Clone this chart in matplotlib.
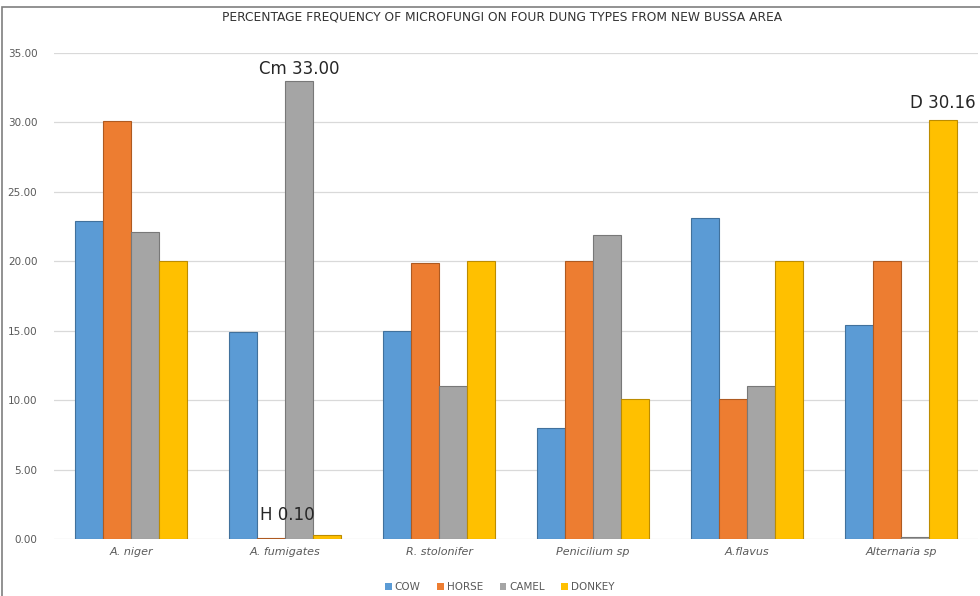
import matplotlib
matplotlib.use("Agg")
import matplotlib.pyplot as plt
import numpy as np
from matplotlib.patches import Rectangle

# Fungal species isolated and their percentage frequency on each dung type
categories = ["A. niger", "A. fumigates", "R. stolonifer", "Penicilium sp", "A.flavus", "Alternaria sp"]
series_names = ["COW", "HORSE", "CAMEL", "DONKEY"]
cow = [22.90, 14.90, 15.00, 8.00, 23.10, 15.40]
horse = [30.10, 0.10, 19.90, 20.00, 10.10, 20.00]
camel = [22.10, 33.00, 11.05, 21.90, 11.00, 0.15]
donkey = [20.00, 0.30, 20.00, 10.05, 20.00, 30.16]
y_ticks = [0, 5, 10, 15, 20, 25, 30, 35]

colors = ["#5B9BD5", "#ED7D31", "#A5A5A5", "#FFC000"]
edges = ["#41719C", "#AE5A21", "#787878", "#BC8C00"]

fig = plt.figure(figsize=(9.8, 5.96), dpi=100)
ax = fig.add_axes([0.0551, 0.0956, 0.9429, 0.8154])

x = np.arange(len(categories))
w = 0.182
data = [cow, horse, camel, donkey]
for i, (vals, c, e, name) in enumerate(zip(data, colors, edges, series_names)):
    ax.bar(x + (i - 1.5) * w, vals, width=w, color=c, edgecolor=e,
           linewidth=0.8, label=name, zorder=3)

ax.set_xlim(-0.5, len(categories) - 0.5)
ax.set_ylim(0, 35)
ax.set_yticks(y_ticks)
ax.set_yticklabels([f"{v:.2f}" for v in y_ticks], fontsize=7.5, color="#595959")
ax.yaxis.grid(True, color="#D9D9D9", linewidth=0.9, zorder=0)
ax.tick_params(axis="y", length=0, pad=12)
ax.set_xticks(x)
ax.set_xticklabels(categories, fontsize=8, style="italic", color="#595959")
ax.tick_params(axis="x", length=0, pad=6)
for s in ax.spines.values():
    s.set_visible(False)

# Highlighted maxima / minima labels
fum = categories.index("A. fumigates")
alt = categories.index("Alternaria sp")
ax.annotate(f"Cm {camel[fum]:.2f}", xy=(x[fum] + 0.5 * w, camel[fum]),
            xytext=(0, 2), textcoords="offset points", ha="center", va="bottom",
            fontsize=12, color="#262626")
ax.annotate(f"H {horse[fum]:.2f}", xy=(x[fum] - 0.5 * w, horse[fum]),
            xytext=(12, 10), textcoords="offset points", ha="center", va="bottom",
            fontsize=12, color="#262626")
ax.annotate(f"D {donkey[alt]:.2f}", xy=(x[alt] + 1.5 * w, donkey[alt]),
            xytext=(0, 6), textcoords="offset points", ha="center", va="bottom",
            fontsize=12, color="#262626")

fig.text(0.512, 0.972, "PERCENTAGE FREQUENCY OF MICROFUNGI ON FOUR DUNG TYPES FROM NEW BUSSA AREA",
         ha="center", va="center", fontsize=8.8, color="#333333", fontweight="medium")

leg = fig.legend(loc="center", bbox_to_anchor=(0.51, 0.015), ncol=4, frameon=False,
                 fontsize=7.5, handlelength=0.6, handleheight=0.6, handletextpad=0.3,
                 columnspacing=1.6)
for t in leg.get_texts():
    t.set_color("#595959")
for h in leg.legend_handles:
    h.set_edgecolor("none")

# Outer frame of the chart area
fig.patches.append(Rectangle((0.002, -0.05), 1.1, 1.05 - 7 / 596, transform=fig.transFigure,
                             fill=False, edgecolor="#7F7F7F", linewidth=1.2))

fig.savefig("out.png", dpi=100)
